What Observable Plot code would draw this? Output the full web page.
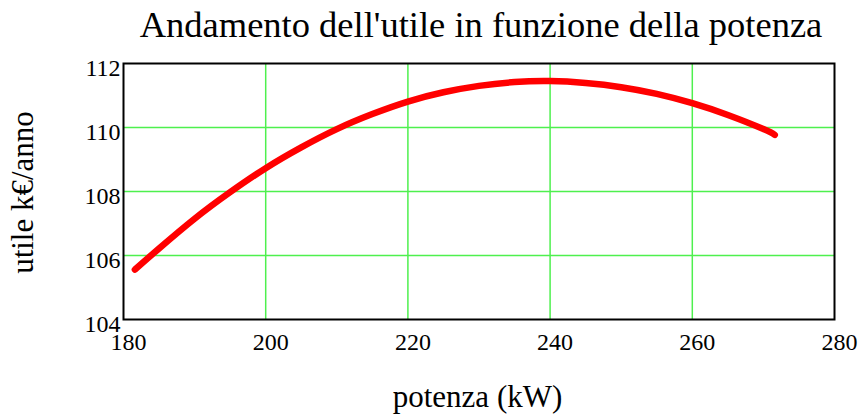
<!DOCTYPE html>
<html>
<head>
<meta charset="utf-8">
<script src="https://cdn.jsdelivr.net/npm/d3@7"></script>
<script src="https://cdn.jsdelivr.net/npm/@observablehq/plot@0.6"></script>
<style>
  html, body { margin: 0; padding: 0; background: #fff; }
  #title {
    width: 861px; height: 50px; box-sizing: border-box;
    padding-left: 101px; text-align: center;
    font-family: "Liberation Serif", "Times New Roman", serif;
    font-size: 36.5px; line-height: 50px; color: #000;
    white-space: nowrap;
  }
</style>
</head>
<body>
<div id="title">Andamento dell'utile in funzione della potenza</div>
<div id="chart"></div>
<script>
const potenza = [181.6, 185, 190, 195, 200, 205, 210, 215, 220, 225, 230, 235, 240, 245, 250, 255, 260, 265, 270, 271.6];
const utile   = [105.56, 106.22, 107.15, 107.98, 108.73, 109.38, 109.95, 110.42, 110.81, 111.10, 111.30, 111.42, 111.45, 111.39, 111.26, 111.05, 110.76, 110.39, 109.95, 109.77];
const xTicks = [180, 200, 220, 240, 260, 280];
const yTicks = [104, 106, 108, 110, 112];
const xGrid = [200, 220, 240, 260];
const yGrid = [106, 108, 110];
const xLabel = "potenza (kW)";
const yLabel = "utile k€/anno";

const serif = "Liberation Serif";
const data = potenza.map((p, i) => ({potenza: p, utile: utile[i]}));

const chart = Plot.plot({
  width: 861,
  height: 364,
  marginTop: 13,
  marginBottom: 95,
  marginLeft: 123,
  marginRight: 27,
  style: {fontFamily: "'Liberation Serif', serif", background: "#fff", color: "#000"},
  x: {domain: [180, 280], axis: null},
  y: {domain: [104, 112], axis: null},
  marks: [
    Plot.gridX(xGrid, {stroke: "#4ef04e", strokeOpacity: 1, strokeWidth: 1.5}),
    Plot.gridY(yGrid, {stroke: "#4ef04e", strokeOpacity: 1, strokeWidth: 1.5}),
    Plot.text(xTicks, {x: d => d, frameAnchor: "bottom", lineAnchor: "top", textAnchor: "middle", dx: 5, dy: 13, fontSize: 24, fontFamily: serif, fill: "#000", text: d => String(d)}),
    Plot.text(yTicks, {y: d => d, frameAnchor: "left", lineAnchor: "middle", textAnchor: "end", dx: -3, dy: 4.5, fontSize: 24, fontFamily: serif, fill: "#000", text: d => String(d)}),
    Plot.line(data, {x: "potenza", y: "utile", stroke: "#ff0000", strokeWidth: 6.5, strokeLinecap: "round", strokeLinejoin: "round", curve: "natural"}),
    Plot.frame({stroke: "#000", strokeWidth: 2}),
    Plot.text([yLabel], {frameAnchor: "left", rotate: -90, dx: -100, dy: 1, fontSize: 31, fontFamily: serif, lineAnchor: "middle", textAnchor: "middle", fill: "#000"}),
    Plot.text([xLabel], {frameAnchor: "bottom", dx: -1.5, dy: 78, fontSize: 31, fontFamily: serif, lineAnchor: "middle", textAnchor: "middle", fill: "#000"})
  ]
});
document.getElementById("chart").appendChild(chart);
</script>
</body>
</html>
